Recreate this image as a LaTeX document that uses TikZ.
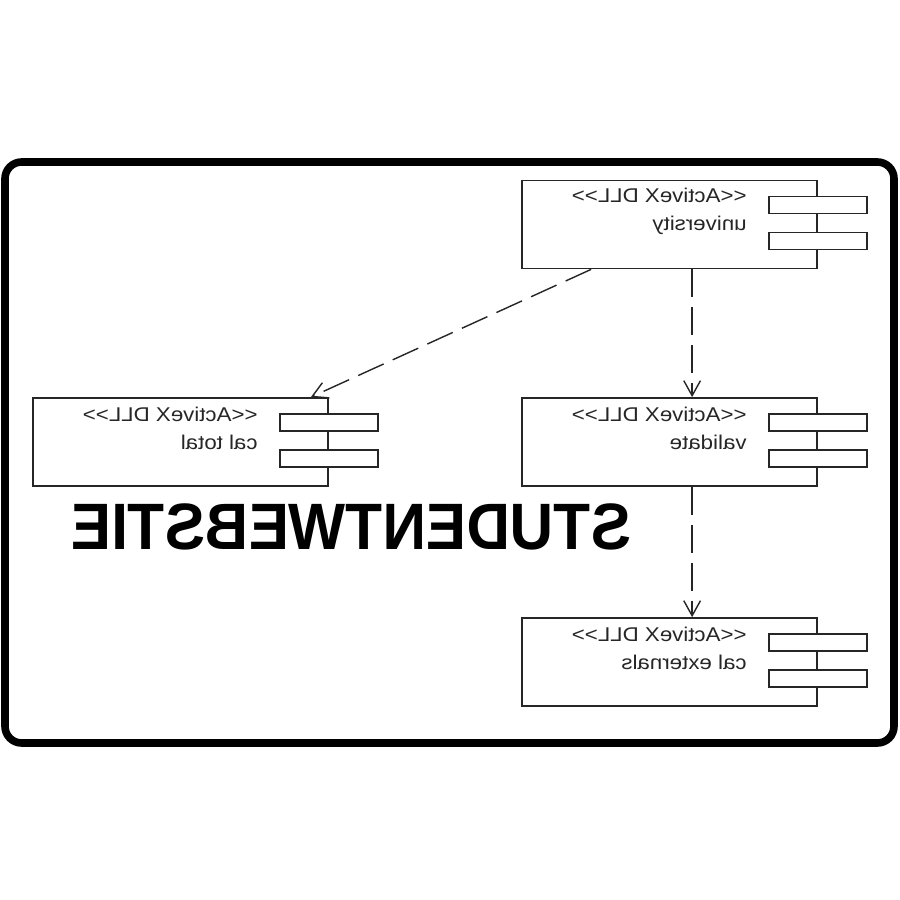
\documentclass[tikz,border=0pt]{standalone}
\usepackage{fontspec}
\usepackage{graphicx}
\setmainfont{Liberation Sans}
\usetikzlibrary{arrows.meta,calc}
\tikzset{
  comp/.style={draw=black!85, line width=1.5pt, fill=white, inner sep=0pt,
    minimum width=8.85cm, minimum height=2.64cm},
  port/.style={draw=black!85, line width=1.5pt, fill=white, inner sep=0pt,
    minimum width=2.94cm, minimum height=0.51cm},
  lbl/.style={inner sep=0pt, anchor=base east, font=\fontsize{17}{20}\selectfont, text=black!85},
  dep/.style={draw=black!85, line width=1.2pt, dash pattern=on 0.84cm off 0.3cm,
    -{Straight Barb[length=0.45cm,width=0.5cm,line width=1.2pt]}},
  frame/.style={draw=black, line width=6.5pt, rounded corners=0.5cm},
  title/.style={inner sep=0pt, font=\bfseries\fontsize{56}{60}\selectfont}
}
\newcommand{\mirr}[1]{\scalebox{-1.12}[1]{#1}}
\newcommand{\stereo}{<\kern0pt<\kern0pt ActiveX DLL\kern0pt>\kern0pt>}
\begin{document}
\begin{tikzpicture}[x=0.03cm,y=-0.03cm]
\useasboundingbox (0,0) rectangle (900,900);
\fill[white] (0,0) rectangle (900,900);
% frame
\draw[frame] (5,162) rectangle (894,743);
% components
\node[comp] (uni) at (669.5,224.5) {};
\node[comp] (cal) at (180.5,442) {};
\node[comp] (val) at (669.5,442) {};
\node[comp] (ext) at (669.5,662) {};
\foreach \c in {uni,cal,val,ext}{
  \node[port] (\c p1) at ($(\c.north east)+(0,25.5)$) {};
  \node[port] (\c p2) at ($(\c.north east)+(0,61.5)$) {};
}
% labels
\node[lbl] (unit1) at ($(uni.north east)+(-71,23)$) {\mirr{\stereo}};
\node[lbl] (unit2) at ($(uni.north east)+(-71,51)$) {\mirr{university}};
\node[lbl] (calt1) at ($(cal.north east)+(-71,24)$) {\mirr{\stereo}};
\node[lbl] (calt2) at ($(cal.north east)+(-71,52)$) {\mirr{cal total}};
\node[lbl] (valt1) at ($(val.north east)+(-71,24)$) {\mirr{\stereo}};
\node[lbl] (valt2) at ($(val.north east)+(-71,52)$) {\mirr{validate}};
\node[lbl] (extt1) at ($(ext.north east)+(-71,24)$) {\mirr{\stereo}};
\node[lbl] (extt2) at ($(ext.north east)+(-71,52)$) {\mirr{cal externals}};
% title
\node[title] (ttl) at (351,527) {\scalebox{-0.92}[1]{STUDENTWEBSTIE}};
% connectors
\coordinate (a1) at ($(uni.south west)+(70,0)$);
\coordinate (a2) at ($(cal.north east)+(-18,0)$);
\coordinate (b1) at ($(uni.south west)+(171,0)$);
\coordinate (b2) at ($(val.north west)+(171,0)$);
\coordinate (c1) at ($(val.south west)+(171,0)$);
\coordinate (c2) at ($(ext.north west)+(171,0)$);
\draw[dep] (a1) -- (a2);
\draw[dep] (b1) -- (b2);
\draw[dep] (c1) -- (c2);
\end{tikzpicture}
\end{document}
